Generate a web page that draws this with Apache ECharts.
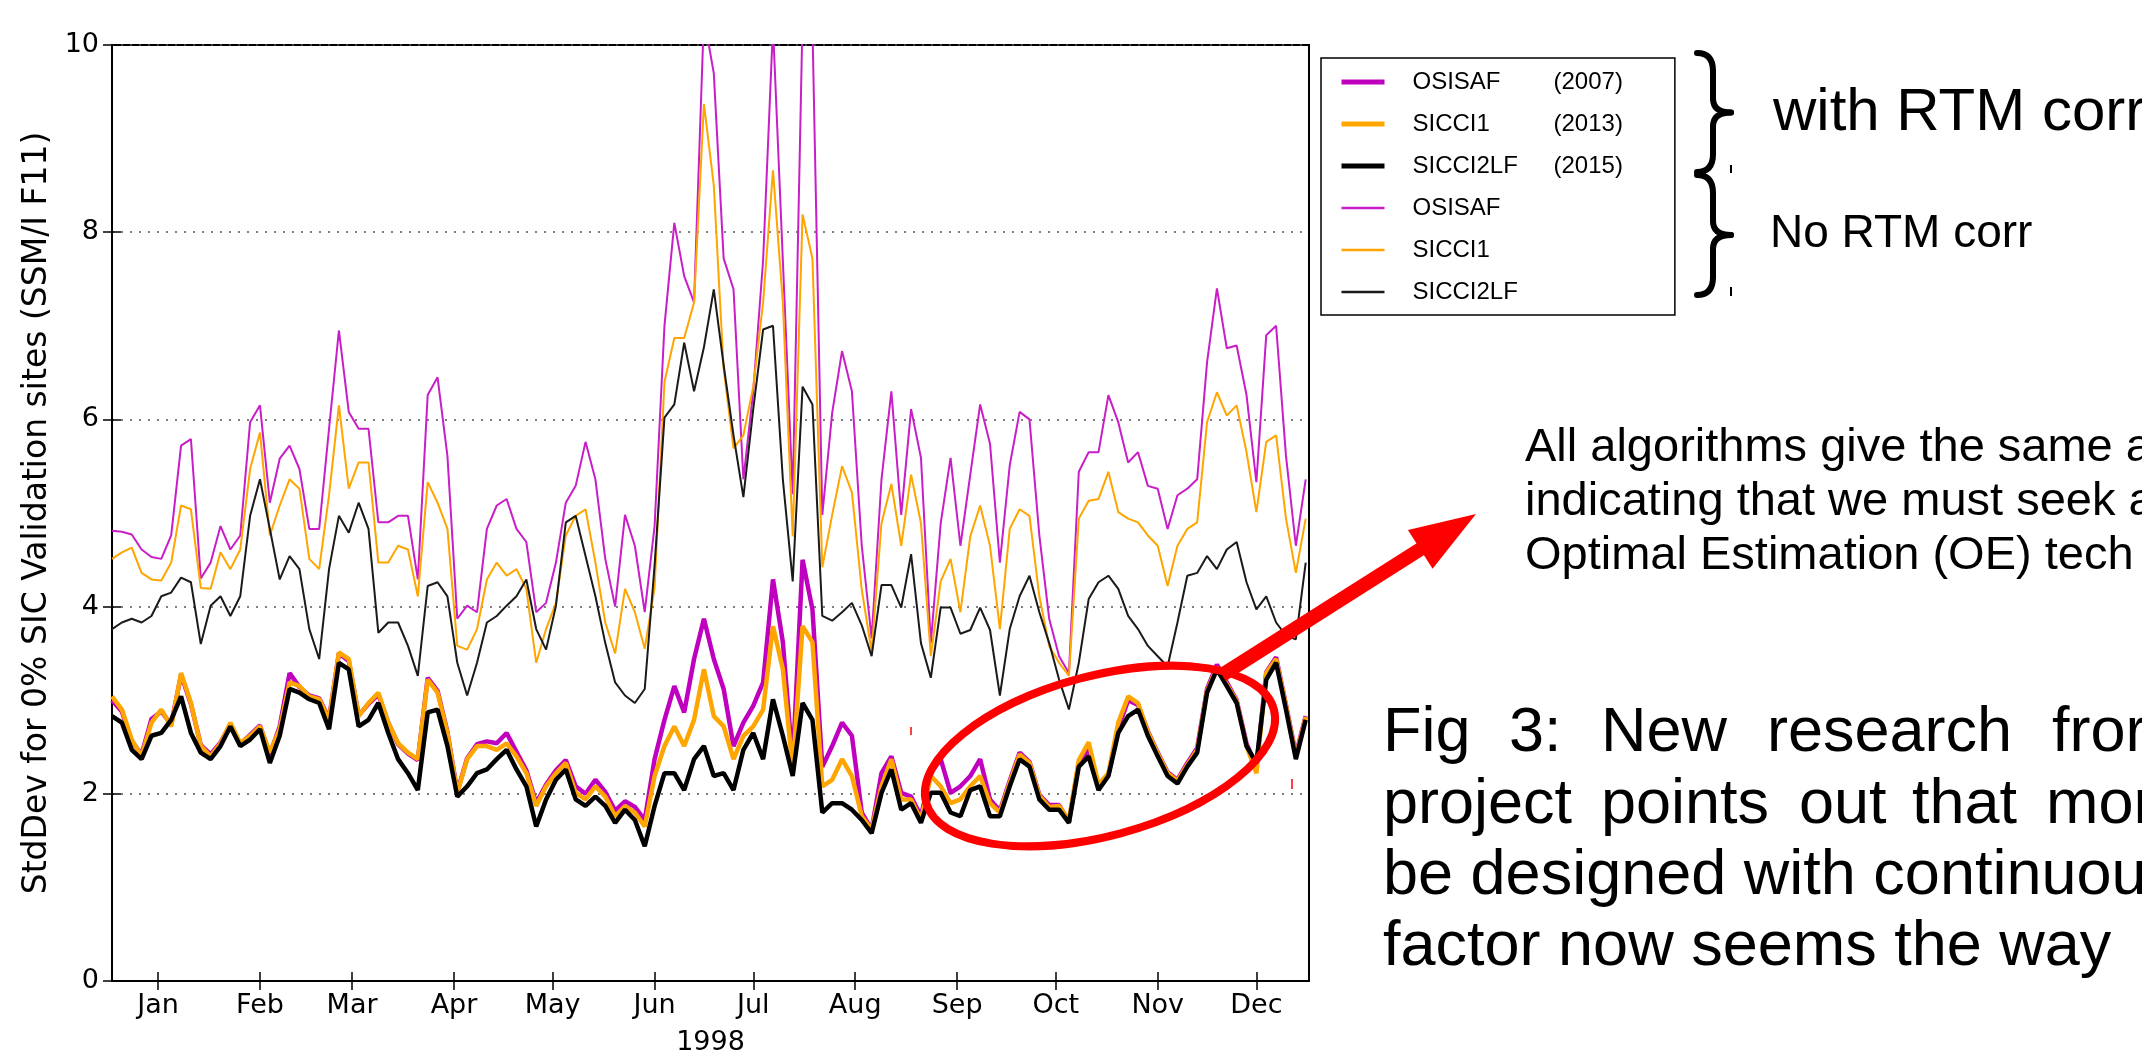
<!DOCTYPE html>
<html>
<head>
<meta charset="utf-8">
<script src="https://cdn.jsdelivr.net/npm/echarts@6/dist/echarts.min.js"></script>
<style>
html,body{margin:0;padding:0;background:#fff;}
#chart{width:2142px;height:1061px;}
</style>
</head>
<body>
<div id="chart"></div>
<script>
// sampling every 3rd day of 1998 (day-of-year, 0 = 1 Jan)
const dayStep = 3;
const monthNames = ['Jan','Feb','Mar','Apr','May','Jun','Jul','Aug','Sep','Oct','Nov','Dec'];
const monthTickDays = [14,45,73,104,134,165,195,226,257,287,318,348];
const yTicks = [0,2,4,6,8,10];

// without RTM correction (thin lines)
const osisafNo = [4.81,4.80,4.77,4.61,4.53,4.51,4.76,5.72,5.79,4.30,4.47,4.86,4.61,4.76,5.97,6.15,5.11,5.58,5.72,5.47,4.83,4.83,5.90,6.95,6.08,5.90,5.90,4.90,4.90,4.97,4.97,
4.29,6.26,6.45,5.61,3.87,4.01,3.94,4.83,5.08,5.15,4.83,4.69,3.94,4.04,4.47,5.11,5.29,5.76,5.36,4.51,4.00,4.98,4.65,3.94,4.86,
7.00,8.10,7.53,7.25,10.3,9.70,7.72,7.39,5.36,6.30,7.70,10.2,7.70,5.20,10.3,10.2,4.98,6.07,6.73,6.30,4.65,3.66,5.36,6.30,4.98,6.11,5.59,3.61,4.89,5.59,4.65,5.41,6.16,5.74,
4.47,5.51,6.08,6.00,4.76,3.87,3.47,3.29,5.44,5.65,5.65,6.26,5.97,5.54,5.65,5.29,5.26,4.83,5.19,5.26,5.36,6.61,7.40,6.76,6.79,6.26,5.33,6.90,7.00,5.61,4.65,5.36];
const sicci1No = [4.51,4.58,4.63,4.36,4.29,4.28,4.47,5.08,5.04,4.20,4.19,4.58,4.40,4.61,5.47,5.86,4.76,5.08,5.36,5.26,4.51,4.40,5.19,6.15,5.26,5.54,5.54,4.47,4.47,4.65,4.61,
4.11,5.33,5.11,4.83,3.58,3.54,3.76,4.29,4.47,4.33,4.40,4.19,3.40,3.76,4.04,4.76,4.97,5.04,4.47,3.83,3.50,4.19,3.94,3.55,4.20,
6.40,6.87,6.87,7.25,9.37,8.50,6.54,5.69,5.83,6.35,7.25,8.66,7.25,4.75,8.19,7.72,4.42,4.98,5.50,5.22,4.18,3.52,4.89,5.31,4.65,5.41,4.89,3.47,4.27,4.51,3.94,4.75,5.08,4.65,
3.76,4.83,5.04,4.97,4.11,3.58,3.40,3.26,4.94,5.13,5.15,5.44,5.01,4.94,4.90,4.76,4.65,4.22,4.65,4.83,4.90,5.97,6.29,6.04,6.15,5.65,5.01,5.76,5.83,4.94,4.36,4.94];
const sicci2No = [3.76,3.83,3.87,3.83,3.90,4.11,4.15,4.31,4.26,3.60,4.01,4.11,3.90,4.11,4.97,5.36,4.83,4.29,4.54,4.40,3.76,3.44,4.40,4.97,4.79,5.11,4.83,3.72,3.83,3.83,3.58,
3.26,4.22,4.26,4.11,3.40,3.05,3.40,3.83,3.90,4.01,4.11,4.29,3.76,3.54,4.01,4.90,4.97,4.54,4.11,3.61,3.19,3.05,2.97,3.12,4.44,
6.02,6.16,6.82,6.30,6.77,7.39,6.58,5.83,5.17,6.11,6.96,7.00,5.36,4.27,6.35,6.16,3.90,3.85,3.94,4.04,3.80,3.47,4.23,4.23,3.99,4.56,3.61,3.24,3.99,3.99,3.71,3.75,3.99,3.75,
3.05,3.76,4.11,4.33,3.94,3.61,3.22,2.90,3.40,4.08,4.26,4.33,4.19,3.90,3.76,3.58,3.47,3.36,3.83,4.33,4.36,4.54,4.40,4.61,4.69,4.26,3.97,4.11,3.83,3.69,3.65,4.47];

// with RTM correction (thick lines)
const osisafRtm = [3.00,2.88,2.56,2.42,2.80,2.88,2.74,3.27,2.96,2.52,2.42,2.55,2.74,2.53,2.63,2.73,2.42,2.72,3.29,3.14,3.05,3.02,2.80,3.50,3.42,2.84,2.96,3.06,2.76,2.53,2.43,
2.36,3.24,3.10,2.66,2.02,2.38,2.53,2.56,2.54,2.65,2.45,2.25,1.90,2.10,2.25,2.36,2.08,2.00,2.15,2.02,1.82,1.92,1.86,1.72,2.37,
2.79,3.15,2.87,3.44,3.87,3.44,3.12,2.51,2.76,2.94,3.19,4.29,3.62,2.33,4.50,3.97,2.29,2.51,2.76,2.62,1.80,1.62,2.22,2.40,2.01,1.97,1.76,2.22,2.37,2.01,2.08,2.19,2.37,1.94,
1.82,2.14,2.44,2.34,1.99,1.88,1.88,1.70,2.33,2.48,2.07,2.20,2.70,3.00,2.95,2.67,2.44,2.23,2.15,2.33,2.49,3.12,3.38,3.19,3.00,2.54,2.28,3.30,3.46,2.95,2.42,2.83];
const sicci1Rtm = [3.04,2.90,2.58,2.40,2.76,2.90,2.72,3.29,2.97,2.51,2.40,2.54,2.76,2.54,2.62,2.72,2.44,2.69,3.19,3.15,3.04,3.01,2.79,3.51,3.44,2.83,2.97,3.08,2.76,2.54,2.44,
2.37,3.22,3.08,2.65,2.01,2.37,2.51,2.51,2.47,2.54,2.40,2.22,1.87,2.08,2.22,2.33,2.01,1.94,2.08,1.97,1.76,1.87,1.80,1.65,2.19,
2.51,2.72,2.51,2.79,3.33,2.83,2.72,2.37,2.62,2.72,2.90,3.79,3.33,2.26,3.79,3.62,2.08,2.15,2.37,2.19,1.76,1.62,2.08,2.37,1.94,1.94,1.72,2.19,2.08,1.90,1.94,2.08,2.19,1.90,
1.80,2.12,2.42,2.33,1.98,1.86,1.87,1.72,2.36,2.55,2.10,2.22,2.76,3.04,2.97,2.66,2.43,2.22,2.14,2.31,2.47,3.10,3.35,3.17,2.99,2.51,2.22,3.29,3.44,2.94,2.40,2.82];
const sicci2Rtm = [2.83,2.76,2.47,2.37,2.62,2.65,2.79,3.04,2.65,2.44,2.37,2.51,2.72,2.51,2.58,2.69,2.33,2.62,3.12,3.08,3.01,2.97,2.69,3.40,3.33,2.72,2.79,2.97,2.65,2.37,2.22,
2.04,2.87,2.90,2.51,1.97,2.08,2.22,2.26,2.37,2.47,2.26,2.08,1.65,1.94,2.15,2.26,1.94,1.87,1.97,1.87,1.69,1.83,1.72,1.44,1.87,
2.22,2.22,2.04,2.37,2.51,2.19,2.22,2.04,2.47,2.65,2.37,3.01,2.62,2.19,2.97,2.79,1.80,1.90,1.90,1.83,1.72,1.58,2.01,2.26,1.83,1.90,1.69,2.01,2.01,1.80,1.76,2.04,2.08,1.76,
1.76,2.08,2.37,2.29,1.94,1.83,1.83,1.69,2.29,2.40,2.04,2.19,2.65,2.83,2.90,2.62,2.40,2.19,2.11,2.29,2.44,3.08,3.33,3.15,2.97,2.51,2.33,3.22,3.40,2.90,2.37,2.79];

const days = osisafNo.map((_, i) => i * dayStep);
const pairs = arr => arr.map((v, i) => [days[i], v]);

const MAG = '#BF00BF', MAG_THIN = '#C81EC8', ORA = '#FFA500', BLK = '#000000', BLK_THIN = '#1a1a1a';
const tickFont = 'DejaVu Sans';
const annFont = 'Liberation Sans, Arial, sans-serif';
const THICK = 4.5, THIN = 2;

function mk(name, data, color, width, z) {
  return { name, type: 'line', data: pairs(data), symbol: 'none', showSymbol: false,
    lineStyle: { color, width }, itemStyle: { color }, z, clip: true, animation: false };
}

const series = [
  mk('OSISAF', osisafNo, MAG_THIN, THIN, 2),
  mk('SICCI1', sicci1No, ORA, THIN, 3),
  mk('SICCI2LF', sicci2No, BLK_THIN, THIN, 4),
  mk('OSISAF (2007)', osisafRtm, MAG, THICK, 5),
  mk('SICCI1 (2013)', sicci1Rtm, ORA, THICK, 6),
  mk('SICCI2LF (2015)', sicci2Rtm, BLK, THICK, 7)
];

const gridLeft = 112, gridTop = 45, gridW = 1197, gridH = 936;
const tickCommon = { inside: true, length: 9, lineStyle: { color: '#000', width: 1.5 } };

// curly brace built from quadratic curves and straight segments
function brace(xl, xs, xt, top, bot) {
  const mid = (top + bot) / 2, r = 18;
  const st = { fill: 'none', stroke: '#000', lineWidth: 6, lineCap: 'round' };
  return [
    { type: 'bezierCurve', z: 100, shape: { x1: xl, y1: top, cpx1: xs, cpy1: top, x2: xs, y2: top + r }, style: st },
    { type: 'line', z: 100, shape: { x1: xs, y1: top + r, x2: xs, y2: mid - 14 }, style: st },
    { type: 'bezierCurve', z: 100, shape: { x1: xs, y1: mid - 14, cpx1: xs, cpy1: mid, x2: xt, y2: mid }, style: st },
    { type: 'bezierCurve', z: 100, shape: { x1: xt, y1: mid, cpx1: xs, cpy1: mid, x2: xs, y2: mid + 14 }, style: st },
    { type: 'line', z: 100, shape: { x1: xs, y1: mid + 14, x2: xs, y2: bot - r }, style: st },
    { type: 'bezierCurve', z: 100, shape: { x1: xs, y1: bot - r, cpx1: xs, cpy1: bot, x2: xl, y2: bot }, style: st }
  ];
}

// arrow geometry
const arrowStart = [1222, 675], arrowTip = [1476, 514];
const ax = arrowTip[0]-arrowStart[0], ay = arrowTip[1]-arrowStart[1];
const alen = Math.hypot(ax, ay), ux = ax/alen, uy = ay/alen, px = -uy, py = ux;
const headL = 66, headW = 23;
const bx = arrowTip[0]-ux*headL, by = arrowTip[1]-uy*headL;

function txt(text, x, y, size, sx) {
  return { type: 'text', x, y, z: 100, scaleX: sx || 1, scaleY: 1,
    style: { text, fontSize: size, fontFamily: annFont, fill: '#000', textAlign: 'left', textVerticalAlign: 'middle', verticalAlign: 'middle' } };
}

const FS = 63, FP = 47;
const graphics = [].concat(
  brace(1697, 1713, 1731, 53, 172),
  brace(1697, 1713, 1731, 175, 295),
  [
  { type: 'line', z: 100, shape: { x1: 1731, y1: 165, x2: 1731, y2: 173 }, style: { stroke: '#000', lineWidth: 2 } },
  { type: 'line', z: 100, shape: { x1: 1731, y1: 287, x2: 1731, y2: 296 }, style: { stroke: '#000', lineWidth: 2 } },
  txt('with RTM corr', 1773, 113, 60),
  txt('No RTM corr', 1770, 234, 46),
  txt('All algorithms give the same a', 1525, 448, FP),
  txt('indicating that we must seek a', 1525, 502, FP),
  txt('Optimal Estimation (OE) tech', 1525, 556, FP),
  txt('Fig', 1383, 734, FS), txt('3:', 1509, 734, FS), txt('New', 1601, 734, FS), txt('research', 1767, 734, FS), txt('fror', 2052, 734, FS),
  txt('project', 1383, 806, FS), txt('points', 1601, 806, FS), txt('out', 1799, 806, FS), txt('that', 1912, 806, FS), txt('mor', 2046, 806, FS),
  txt('be designed with continuou', 1383, 877, FS),
  txt('factor now seems the way', 1383, 948, FS),
  { type: 'ellipse', z: 90, x: 1100, y: 756, rotation: 15 * Math.PI / 180, shape: { cx: 0, cy: 0, rx: 180, ry: 80 },
    style: { fill: 'none', stroke: '#ff0000', lineWidth: 8 } },
  { type: 'line', z: 91, shape: { x1: arrowStart[0], y1: arrowStart[1], x2: bx + ux*4, y2: by + uy*4 }, style: { stroke: '#ff0000', lineWidth: 14 } },
  { type: 'polygon', z: 91, shape: { points: [arrowTip, [bx + px*headW, by + py*headW], [bx - px*headW, by - py*headW]] }, style: { fill: '#ff0000' } },
  { type: 'line', z: 91, shape: { x1: 911, y1: 727, x2: 911, y2: 735 }, style: { stroke: '#ff0000', lineWidth: 1.5 } },
  { type: 'line', z: 91, shape: { x1: 1292, y1: 779, x2: 1292, y2: 789 }, style: { stroke: '#ff0000', lineWidth: 1.5 } }
  ]
);

const legendNames = ['OSISAF (2007)', 'SICCI1 (2013)', 'SICCI2LF (2015)', 'OSISAF', 'SICCI1', 'SICCI2LF'];
const legendWidths = [5, 5, 5, 2.5, 2.5, 2.5];

const option = {
  backgroundColor: '#fff',
  animation: false,
  grid: { left: gridLeft, top: gridTop, width: gridW, height: gridH, show: true, borderColor: '#000', borderWidth: 2, backgroundColor: 'transparent' },
  legend: {
    data: legendNames.map((n, i) => ({ name: n, lineStyle: { width: legendWidths[i] } })),
    orient: 'vertical', left: 1321, top: 58,
    itemWidth: 43, itemHeight: 20, itemGap: 18,
    padding: [12, 52, 11, 18],
    borderColor: '#000', borderWidth: 1.5, backgroundColor: '#fff',
    selectedMode: false,
    itemStyle: { opacity: 0 },
    formatter: function (name) {
      const m = name.match(/^(\S+)\s*(\(\d+\))?$/);
      return '{n|' + m[1] + '}' + (m[2] ? '{y|' + m[2] + '}' : '');
    },
    textStyle: { fontFamily: annFont, fontSize: 24, color: '#000',
      rich: { n: { width: 141, fontSize: 24, fontFamily: annFont, padding: [0, 0, 0, 23], color: '#000' },
              y: { fontSize: 24, fontFamily: annFont, color: '#000' } } }
  },
  xAxis: [
    { type: 'value', min: 0, max: 364, position: 'bottom',
      name: '1998', nameLocation: 'middle', nameGap: 48,
      nameTextStyle: { fontFamily: tickFont, fontSize: 27, color: '#000' },
      axisLine: { show: true, lineStyle: { color: '#000', width: 2 } },
      axisTick: Object.assign({ customValues: monthTickDays }, tickCommon),
      axisLabel: { customValues: monthTickDays, fontFamily: tickFont, fontSize: 27, color: '#000', margin: 11,
        formatter: v => monthNames[monthTickDays.indexOf(Math.round(v))] || '' },
      splitLine: { show: false } },
    { type: 'value', min: 0, max: 364, position: 'top',
      axisLine: { show: true, lineStyle: { color: '#000', width: 2 } },
      axisTick: Object.assign({ customValues: monthTickDays }, tickCommon),
      axisLabel: { show: false }, splitLine: { show: false } }
  ],
  yAxis: [
    { type: 'value', min: 0, max: 10, interval: 2, position: 'left',
      name: 'StdDev for 0% SIC Validation sites (SSM/I F11)', nameLocation: 'middle', nameGap: 56, nameRotate: 90,
      nameTextStyle: { fontFamily: tickFont, fontSize: 33, color: '#000' },
      axisLine: { show: true, lineStyle: { color: '#000', width: 2 } },
      axisTick: tickCommon,
      axisLabel: { fontFamily: tickFont, fontSize: 27, color: '#000', margin: 13 },
      splitLine: { show: true, lineStyle: { color: '#555', width: 1.5, type: [2, 7] } } },
    { type: 'value', min: 0, max: 10, interval: 2, position: 'right',
      axisLine: { show: true, lineStyle: { color: '#000', width: 2 } },
      axisTick: tickCommon, axisLabel: { show: false }, splitLine: { show: false } }
  ],
  series: series,
  graphic: { elements: graphics }
};

const chart = echarts.init(document.getElementById('chart'), null, { renderer: 'canvas' });
chart.setOption(option);
</script>
</body>
</html>
